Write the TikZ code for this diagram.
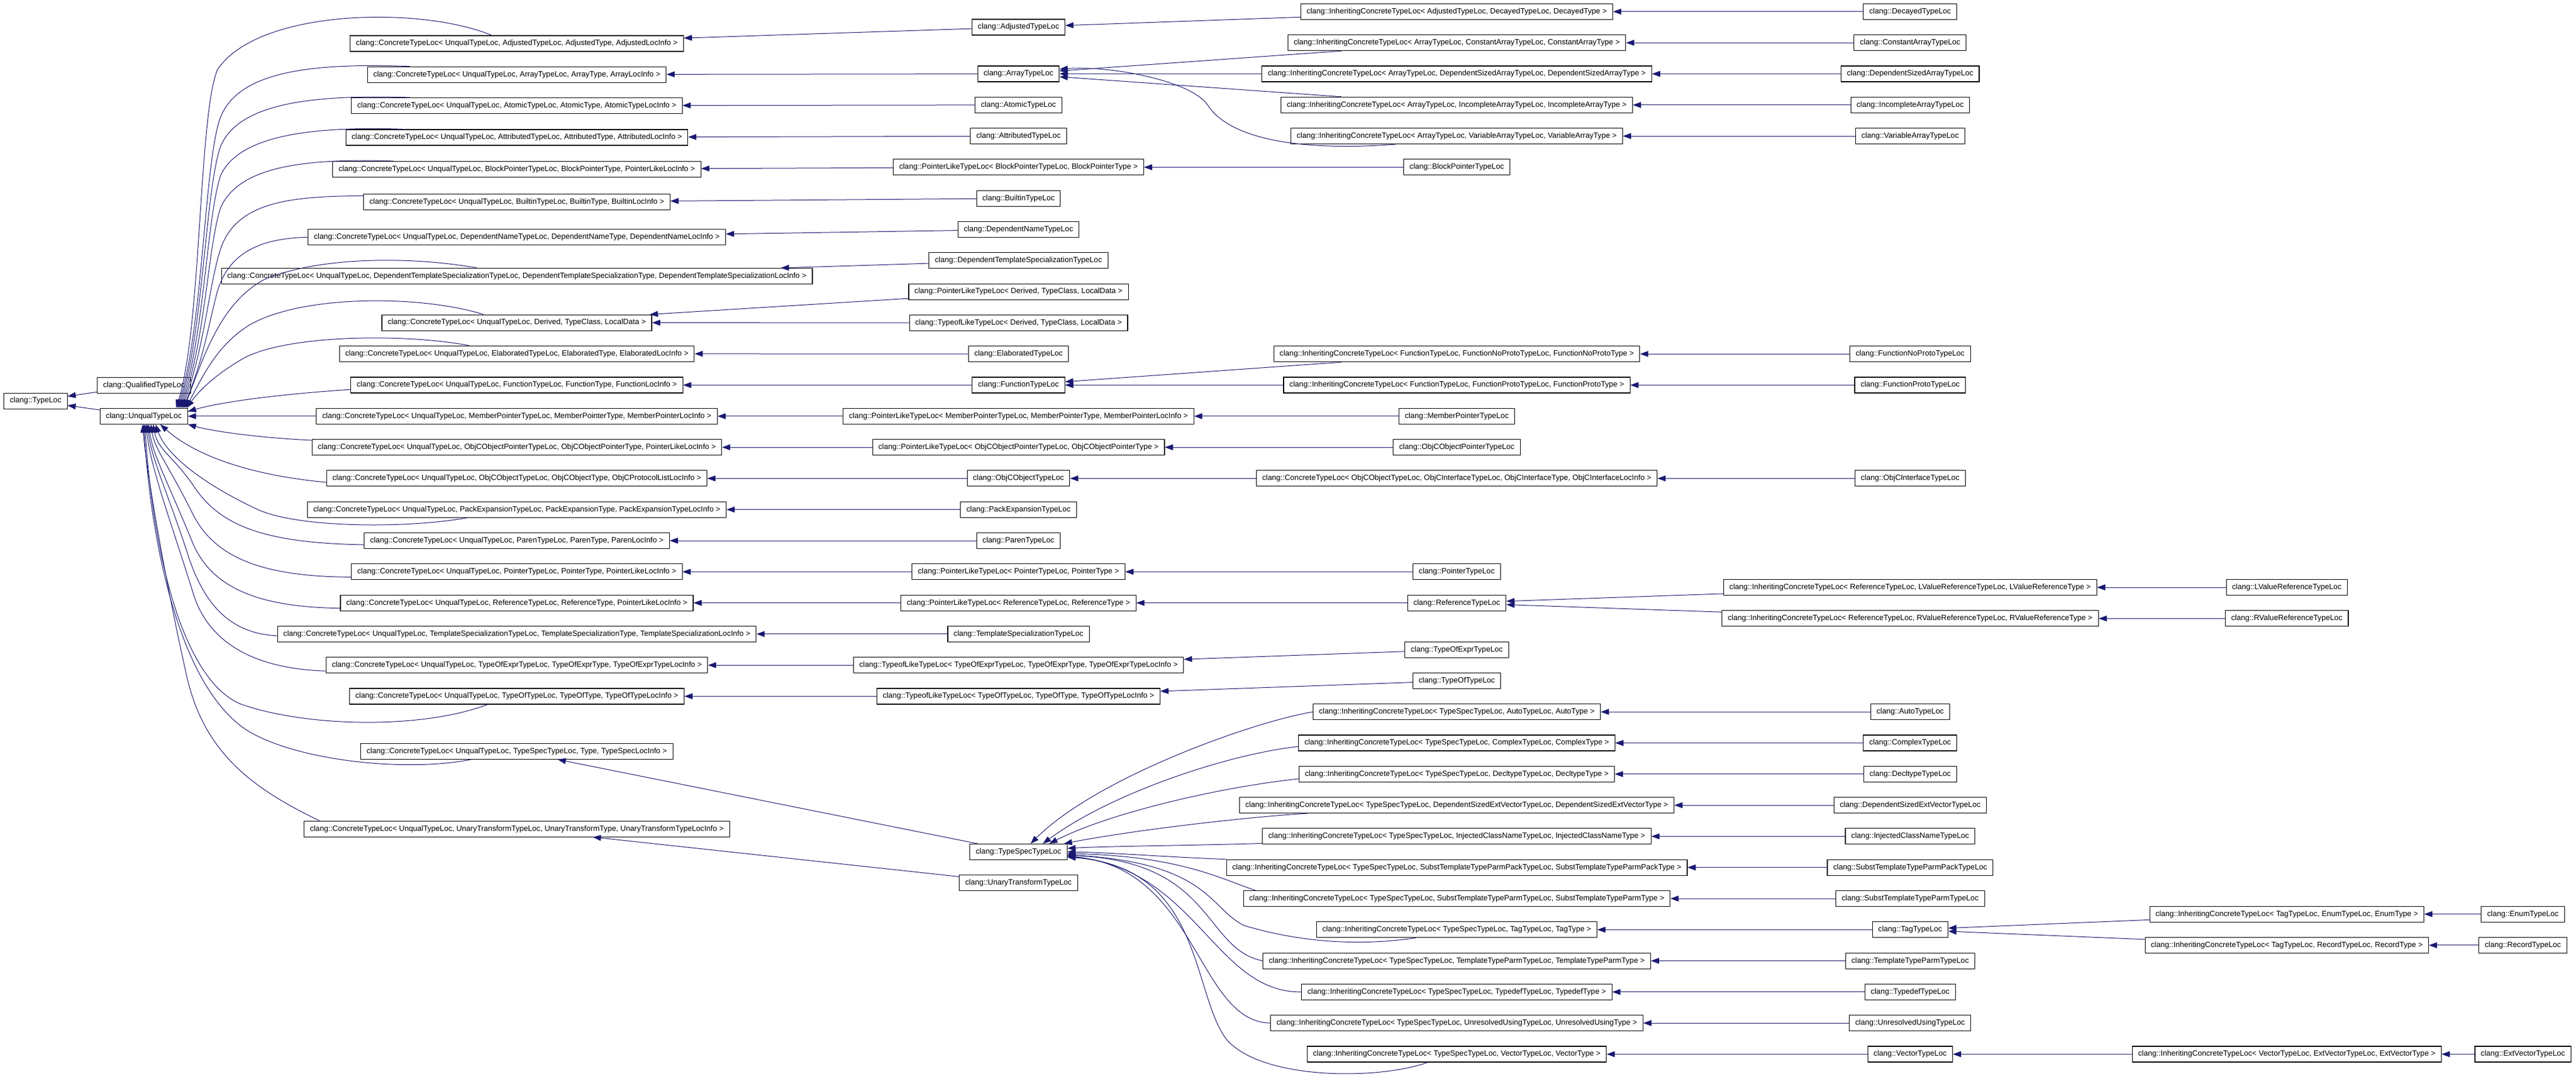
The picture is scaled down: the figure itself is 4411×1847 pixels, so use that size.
\documentclass[tikz,border=0pt]{standalone}
\usepackage{fontspec}
\setmainfont{Liberation Sans}
\usetikzlibrary{arrows.meta,calc}
\definecolor{edgeblue}{RGB}{25,25,112}
\begin{document}
\begin{tikzpicture}[x=1pt,y=-1pt]
\tikzset{cls/.style={rectangle, draw=black, fill=white, line width=1.1pt, text centered, minimum height=27pt, inner xsep=10pt, font=\fontsize{13.1}{15}\selectfont},
	inh/.style={draw=edgeblue, line width=1pt, -{Triangle[length=14pt,width=10pt]}}}
\useasboundingbox (0,0) rectangle (4411,1847);

% root
\node[cls] (typeloc) at (61,686.6) {clang::TypeLoc};
\node[cls] (qual) at (246.5,659.7) {clang::QualifiedTypeLoc};
\node[cls] (unqual) at (246.3,712.8) {clang::UnqualTypeLoc};

% ConcreteTypeLoc< UnqualTypeLoc, ... >
\node[cls] (cAdj) at (885,74.5) {clang::ConcreteTypeLoc< UnqualTypeLoc, AdjustedTypeLoc, AdjustedType, AdjustedLocInfo >};
\node[cls] (cArr) at (885,127.7) {clang::ConcreteTypeLoc< UnqualTypeLoc, ArrayTypeLoc, ArrayType, ArrayLocInfo >};
\node[cls] (cAto) at (885,181) {clang::ConcreteTypeLoc< UnqualTypeLoc, AtomicTypeLoc, AtomicType, AtomicTypeLocInfo >};
\node[cls] (cAtt) at (885,235.5) {clang::ConcreteTypeLoc< UnqualTypeLoc, AttributedTypeLoc, AttributedType, AttributedLocInfo >};
\node[cls] (cBlk) at (885,290) {clang::ConcreteTypeLoc< UnqualTypeLoc, BlockPointerTypeLoc, BlockPointerType, PointerLikeLocInfo >};
\node[cls] (cBui) at (885,346.4) {clang::ConcreteTypeLoc< UnqualTypeLoc, BuiltinTypeLoc, BuiltinType, BuiltinLocInfo >};
\node[cls] (cDnm) at (885,406.3) {clang::ConcreteTypeLoc< UnqualTypeLoc, DependentNameTypeLoc, DependentNameType, DependentNameLocInfo >};
\node[cls] (cDts) at (885,473) {clang::ConcreteTypeLoc< UnqualTypeLoc, DependentTemplateSpecializationTypeLoc, DependentTemplateSpecializationType, DependentTemplateSpecializationLocInfo >};
\node[cls] (cDer) at (885,552.6) {clang::ConcreteTypeLoc< UnqualTypeLoc, Derived, TypeClass, LocalData >};
\node[cls] (cEla) at (885,605.8) {clang::ConcreteTypeLoc< UnqualTypeLoc, ElaboratedTypeLoc, ElaboratedType, ElaboratedLocInfo >};
\node[cls] (cFun) at (885,659.5) {clang::ConcreteTypeLoc< UnqualTypeLoc, FunctionTypeLoc, FunctionType, FunctionLocInfo >};
\node[cls] (cMem) at (885,712.8) {clang::ConcreteTypeLoc< UnqualTypeLoc, MemberPointerTypeLoc, MemberPointerType, MemberPointerLocInfo >};
\node[cls] (cOop) at (885,766.1) {clang::ConcreteTypeLoc< UnqualTypeLoc, ObjCObjectPointerTypeLoc, ObjCObjectPointerType, PointerLikeLocInfo >};
\node[cls] (cOob) at (885,819.4) {clang::ConcreteTypeLoc< UnqualTypeLoc, ObjCObjectTypeLoc, ObjCObjectType, ObjCProtocolListLocInfo >};
\node[cls] (cPck) at (885,872.7) {clang::ConcreteTypeLoc< UnqualTypeLoc, PackExpansionTypeLoc, PackExpansionType, PackExpansionTypeLocInfo >};
\node[cls] (cPar) at (885,926) {clang::ConcreteTypeLoc< UnqualTypeLoc, ParenTypeLoc, ParenType, ParenLocInfo >};
\node[cls] (cPtr) at (885,979.3) {clang::ConcreteTypeLoc< UnqualTypeLoc, PointerTypeLoc, PointerType, PointerLikeLocInfo >};
\node[cls] (cRef) at (885,1032.6) {clang::ConcreteTypeLoc< UnqualTypeLoc, ReferenceTypeLoc, ReferenceType, PointerLikeLocInfo >};
\node[cls] (cTsp) at (885,1085.9) {clang::ConcreteTypeLoc< UnqualTypeLoc, TemplateSpecializationTypeLoc, TemplateSpecializationType, TemplateSpecializationLocInfo >};
\node[cls] (cToe) at (885,1139.2) {clang::ConcreteTypeLoc< UnqualTypeLoc, TypeOfExprTypeLoc, TypeOfExprType, TypeOfExprTypeLocInfo >};
\node[cls] (cTof) at (885,1192.5) {clang::ConcreteTypeLoc< UnqualTypeLoc, TypeOfTypeLoc, TypeOfType, TypeOfTypeLocInfo >};
\node[cls] (cTss) at (885,1286.7) {clang::ConcreteTypeLoc< UnqualTypeLoc, TypeSpecTypeLoc, Type, TypeSpecLocInfo >};
\node[cls] (cUtr) at (885,1419.6) {clang::ConcreteTypeLoc< UnqualTypeLoc, UnaryTransformTypeLoc, UnaryTransformType, UnaryTransformTypeLocInfo >};

% third column
\node[cls] (adj) at (1744,46.5) {clang::AdjustedTypeLoc};
\node[cls] (arr) at (1744,126.5) {clang::ArrayTypeLoc};
\node[cls] (ato) at (1744,179.8) {clang::AtomicTypeLoc};
\node[cls] (att) at (1744,233.1) {clang::AttributedTypeLoc};
\node[cls] (pBlk) at (1744,286.4) {clang::PointerLikeTypeLoc< BlockPointerTypeLoc, BlockPointerType >};
\node[cls] (bui) at (1744,339.7) {clang::BuiltinTypeLoc};
\node[cls] (dnm) at (1744,393) {clang::DependentNameTypeLoc};
\node[cls] (dts) at (1744,446.3) {clang::DependentTemplateSpecializationTypeLoc};
\node[cls] (pDer) at (1744,499.6) {clang::PointerLikeTypeLoc< Derived, TypeClass, LocalData >};
\node[cls] (tDer) at (1744,552.9) {clang::TypeofLikeTypeLoc< Derived, TypeClass, LocalData >};
\node[cls] (ela) at (1744,606.2) {clang::ElaboratedTypeLoc};
\node[cls] (fun) at (1744,659.5) {clang::FunctionTypeLoc};
\node[cls] (pMem) at (1744,712.8) {clang::PointerLikeTypeLoc< MemberPointerTypeLoc, MemberPointerType, MemberPointerLocInfo >};
\node[cls] (pOop) at (1744,766.1) {clang::PointerLikeTypeLoc< ObjCObjectPointerTypeLoc, ObjCObjectPointerType >};
\node[cls] (oob) at (1744,819.4) {clang::ObjCObjectTypeLoc};
\node[cls] (pck) at (1744,872.7) {clang::PackExpansionTypeLoc};
\node[cls] (par) at (1744,926) {clang::ParenTypeLoc};
\node[cls] (pPtr) at (1744,979.3) {clang::PointerLikeTypeLoc< PointerTypeLoc, PointerType >};
\node[cls] (pRef) at (1744,1032.6) {clang::PointerLikeTypeLoc< ReferenceTypeLoc, ReferenceType >};
\node[cls] (tsp) at (1744,1085.9) {clang::TemplateSpecializationTypeLoc};
\node[cls] (tToe) at (1744,1139.2) {clang::TypeofLikeTypeLoc< TypeOfExprTypeLoc, TypeOfExprType, TypeOfExprTypeLocInfo >};
\node[cls] (tTof) at (1744,1192.5) {clang::TypeofLikeTypeLoc< TypeOfTypeLoc, TypeOfType, TypeOfTypeLocInfo >};
\node[cls] (tss) at (1744,1459) {clang::TypeSpecTypeLoc};
\node[cls] (utr) at (1744,1512.3) {clang::UnaryTransformTypeLoc};

% fourth column
\node[cls] (iDec) at (2494.5,19.9) {clang::InheritingConcreteTypeLoc< AdjustedTypeLoc, DecayedTypeLoc, DecayedType >};
\foreach \n/\y/\kind in {iCar/73.2/ConstantArray, iDsa/126.5/DependentSizedArray, iInc/179.8/IncompleteArray, iVar/233.1/VariableArray}
	\node[cls] (\n) at (2494.5,\y) {clang::InheritingConcreteTypeLoc< ArrayTypeLoc, \kind TypeLoc, \kind Type >};
\node[cls] (blk) at (2494.5,286.4) {clang::BlockPointerTypeLoc};
\node[cls] (iFnp) at (2494.5,606.2) {clang::InheritingConcreteTypeLoc< FunctionTypeLoc, FunctionNoProtoTypeLoc, FunctionNoProtoType >};
\node[cls] (iFpr) at (2494.5,659.5) {clang::InheritingConcreteTypeLoc< FunctionTypeLoc, FunctionProtoTypeLoc, FunctionProtoType >};
\node[cls] (mem) at (2494.5,712.8) {clang::MemberPointerTypeLoc};
\node[cls] (oop) at (2494.5,766.1) {clang::ObjCObjectPointerTypeLoc};
\node[cls] (cOif) at (2494.5,819.4) {clang::ConcreteTypeLoc< ObjCObjectTypeLoc, ObjCInterfaceTypeLoc, ObjCInterfaceType, ObjCInterfaceLocInfo >};
\node[cls] (ptr) at (2494.5,979.3) {clang::PointerTypeLoc};
\node[cls] (ref) at (2494.5,1032.6) {clang::ReferenceTypeLoc};
\node[cls] (toe) at (2494.5,1112.6) {clang::TypeOfExprTypeLoc};
\node[cls] (tof) at (2494.5,1165.9) {clang::TypeOfTypeLoc};
\foreach \n/\y/\kind in {iAut/1219.2/Auto, iCpx/1272.5/Complex, iDcl/1325.8/Decltype, iDse/1379.1/DependentSizedExtVector, iInj/1432.4/InjectedClassName, iSpp/1485.7/SubstTemplateTypeParmPack, iStp/1539/SubstTemplateTypeParm, iTag/1592.3/Tag, iTtp/1645.6/TemplateTypeParm, iTdf/1698.9/Typedef, iUnr/1752.2/UnresolvedUsing, iVec/1805.5/Vector}
	\node[cls] (\n) at (2494.5,\y) {clang::InheritingConcreteTypeLoc< TypeSpecTypeLoc, \kind TypeLoc, \kind Type >};

% fifth column
\foreach \n/\y/\kind in {dec/19.9/Decayed, car/73.2/ConstantArray, dsa/126.5/DependentSizedArray, inc/179.8/IncompleteArray, var/233.1/VariableArray, fnp/606.2/FunctionNoProto, fpr/659.5/FunctionProto, oif/819.4/ObjCInterface, aut/1219.2/Auto, cpx/1272.5/Complex, dcl/1325.8/Decltype, dse/1379.1/DependentSizedExtVector, inj/1432.4/InjectedClassName, spp/1485.7/SubstTemplateTypeParmPack, stp/1539/SubstTemplateTypeParm, tag/1592.3/Tag, ttp/1645.6/TemplateTypeParm, tdf/1698.9/Typedef, unr/1752.2/UnresolvedUsing, vec/1805.5/Vector}
	\node[cls] (\n) at (3270.8,\y) {clang::\kind TypeLoc};
\node[cls] (iLvr) at (3270.8,1006) {clang::InheritingConcreteTypeLoc< ReferenceTypeLoc, LValueReferenceTypeLoc, LValueReferenceType >};
\node[cls] (iRvr) at (3270.8,1059.3) {clang::InheritingConcreteTypeLoc< ReferenceTypeLoc, RValueReferenceTypeLoc, RValueReferenceType >};

% sixth and seventh columns
\node[cls] (lvr) at (3915.8,1006) {clang::LValueReferenceTypeLoc};
\node[cls] (rvr) at (3915.8,1059.3) {clang::RValueReferenceTypeLoc};
\node[cls] (iEnm) at (3915.8,1565.6) {clang::InheritingConcreteTypeLoc< TagTypeLoc, EnumTypeLoc, EnumType >};
\node[cls] (iRec) at (3915.8,1618.9) {clang::InheritingConcreteTypeLoc< TagTypeLoc, RecordTypeLoc, RecordType >};
\node[cls] (iExt) at (3915.8,1805.5) {clang::InheritingConcreteTypeLoc< VectorTypeLoc, ExtVectorTypeLoc, ExtVectorType >};
\node[cls] (enm) at (4320,1565.6) {clang::EnumTypeLoc};
\node[cls] (rec) at (4320,1618.9) {clang::RecordTypeLoc};
\node[cls] (ext) at (4320,1805.5) {clang::ExtVectorTypeLoc};

% straight inheritance edges
\foreach \a/\b in {qual/typeloc, unqual/typeloc, cMem/unqual,
	adj/cAdj, arr/cArr, ato/cAto, att/cAtt, pBlk/cBlk, bui/cBui, dnm/cDnm, dts/cDts, pDer/cDer, tDer/cDer, ela/cEla, fun/cFun, pMem/cMem, pOop/cOop, oob/cOob, pck/cPck, par/cPar, pPtr/cPtr, pRef/cRef, tsp/cTsp, tToe/cToe, tTof/cTof, tss/cTss, utr/cUtr,
	iDec/adj, iCar/arr, iDsa/arr, iInc/arr, blk/pBlk, iFnp/fun, iFpr/fun, mem/pMem, oop/pOop, cOif/oob, ptr/pPtr, ref/pRef, toe/tToe, tof/tTof,
	dec/iDec, car/iCar, dsa/iDsa, inc/iInc, var/iVar, fnp/iFnp, fpr/iFpr, oif/cOif, iLvr/ref, iRvr/ref, aut/iAut, cpx/iCpx, dcl/iDcl, dse/iDse, inj/iInj, spp/iSpp, stp/iStp, tag/iTag, ttp/iTtp, tdf/iTdf, unr/iUnr, vec/iVec,
	lvr/iLvr, rvr/iRvr, iEnm/tag, iRec/tag, iExt/vec, enm/iEnm, rec/iRec, ext/iExt}
	\draw[inh] (\a) -- (\b);

% curved edges into UnqualTypeLoc
\draw[inh] ($(cAdj.north)+(-43,0)$) .. controls (720,10) and (440,15) .. (372,120) .. controls (340,200) and (345,560) .. ($(unqual.north east)+(-20,0)$);
\draw[inh] ($(cArr.north)+(-183,0)$) .. controls (540,108) and (410,120) .. (378,200) .. controls (350,270) and (348,560) .. ($(unqual.north east)+(-18,0)$);
\draw[inh] ($(cAto.north)+(-183,0)$) .. controls (540,162) and (410,175) .. (378,250) .. controls (352,320) and (348,570) .. ($(unqual.north east)+(-16,0)$);
\draw[inh] ($(cAtt.north)+(-190,0)$) .. controls (540,216) and (410,230) .. (378,300) .. controls (354,370) and (350,575) .. ($(unqual.north east)+(-14,0)$);
\draw[inh] ($(cBlk.north)+(-211,0)$) .. controls (520,271) and (410,285) .. (378,355) .. controls (356,420) and (352,580) .. ($(unqual.north east)+(-12,0)$);
\draw[inh] ($(cBui.west)+(0,-11)$) .. controls (500,336) and (410,345) .. (380,420) .. controls (358,480) and (352,590) .. ($(unqual.north east)+(-10,0)$);
\draw[inh] (cDnm.west) .. controls (450,408) and (392,430) .. (372,500) .. controls (356,560) and (350,610) .. ($(unqual.north east)+(-8,0)$);
\draw[inh] ($(cDts.north)+(-68,0)$) .. controls (700,438) and (540,440) .. (450,480) .. controls (380,520) and (352,600) .. ($(unqual.north east)+(-6,0)$);
\draw[inh] ($(cDer.north)+(-57,0)$) .. controls (720,505) and (520,505) .. (430,555) .. controls (370,590) and (345,650) .. ($(unqual.north east)+(-4,0)$);
\draw[inh] ($(cEla.north)+(-82,0)$) .. controls (700,572) and (500,572) .. (420,612) .. controls (370,640) and (340,670) .. ($(unqual.north east)+(-2,0)$);
\draw[inh] ($(cFun.west)+(0,7.6)$) .. controls (480,675) and (380,688) .. ($(unqual.east)+(0,-8)$);
\draw[inh] ($(cOop.west)+(0,-12)$) .. controls (450,750) and (370,740) .. (unqual.south east);
\draw[inh] ($(cOob.west)+(0,6.7)$) .. controls (440,815) and (340,785) .. ($(unqual.south)+(28,0)$);
\draw[inh] ($(cPck.south)+(-85,0)$) .. controls (700,905) and (510,905) .. (440,872) .. controls (350,830) and (285,780) .. ($(unqual.south)+(20,0)$);
\draw[inh] ($(cPar.west)+(0,7)$) .. controls (450,930) and (375,900) .. (330,830) .. controls (295,780) and (270,770) .. ($(unqual.south)+(16,0)$);
\draw[inh] ($(cPtr.west)+(0,9)$) .. controls (440,988) and (365,950) .. (330,880) .. controls (285,790) and (265,770) .. ($(unqual.south)+(12,0)$);
\draw[inh] ($(cRef.west)+(0,9)$) .. controls (430,1040) and (360,1000) .. (330,930) .. controls (285,820) and (262,780) .. ($(unqual.south)+(8,0)$);
\draw[inh] ($(cTsp.west)+(0,3)$) .. controls (390,1085) and (350,1030) .. (325,960) .. controls (290,850) and (260,790) .. ($(unqual.south)+(6,0)$);
\draw[inh] ($(cToe.west)+(0,10)$) .. controls (420,1145) and (355,1090) .. (332,1020) .. controls (295,900) and (257,800) .. ($(unqual.south)+(4,0)$);
\draw[inh] ($(cTof.south)+(-50,0)$) .. controls (720,1250) and (520,1245) .. (410,1205) .. controls (300,1155) and (258,900) .. ($(unqual.south)+(2,0)$);
\draw[inh] ($(cTss.south)+(-78,0)$) .. controls (700,1322) and (520,1305) .. (430,1255) .. controls (300,1180) and (256,900) .. (unqual.south);
\draw[inh] ($(cUtr.north)+(-338,0)$) .. controls (420,1345) and (345,1280) .. (318,1150) .. controls (280,980) and (250,800) .. ($(unqual.south)+(-2,0)$);

% VariableArray edge
\draw[inh] ($(iVar.south)+(-105,0)$) .. controls (2250,258) and (2110,245) .. (2068,180) .. controls (2040,138) and (1900,112) .. ($(arr.east)+(0,-8)$);

% edges into TypeSpecTypeLoc
\draw[inh] (iAut.west) .. controls (2150,1235) and (1880,1330) .. ($(tss.north east)+(-63,0)$);
\draw[inh] ($(iCpx.west)+(0,6)$) .. controls (2100,1292) and (1900,1360) .. ($(tss.north east)+(-42,0)$);
\draw[inh] ($(iDcl.west)+(0,8)$) .. controls (2090,1348) and (1900,1392) .. ($(tss.north east)+(-31,0)$);
\draw[inh] ($(iDse.south west)+(117,0)$) .. controls (2150,1398) and (1950,1420) .. ($(tss.north east)+(-6,0)$);
\draw[inh] ($(iInj.west)+(0,12)$) .. controls (2050,1448) and (1900,1449) .. ($(tss.east)+(0,-6)$);
\draw[inh] (iSpp.north west) .. controls (2000,1468) and (1900,1460) .. (tss.east);
\draw[inh] ($(iStp.north west)+(21,0)$) .. controls (2090,1505) and (2020,1466) .. ($(tss.east)+(0,3)$);
\draw[inh] ($(iTag.south)+(-70,0)$) .. controls (2330,1620) and (2230,1615) .. (2130,1585) .. controls (2070,1555) and (2070,1478) .. ($(tss.east)+(0,5)$);
\draw[inh] (iTtp.west) .. controls (2060,1625) and (2080,1475) .. ($(tss.east)+(0,6)$);
\draw[inh] (iTdf.west) .. controls (2080,1700) and (2050,1490) .. ($(tss.east)+(0,7)$);
\draw[inh] (iUnr.west) .. controls (2050,1750) and (2050,1485) .. ($(tss.east)+(0,8)$);
\draw[inh] ($(iVec.south)+(-50,0)$) .. controls (2360,1850) and (2160,1850) .. (2100,1780) .. controls (2040,1700) and (2060,1485) .. ($(tss.east)+(0,9)$);
\end{tikzpicture}
\end{document}
